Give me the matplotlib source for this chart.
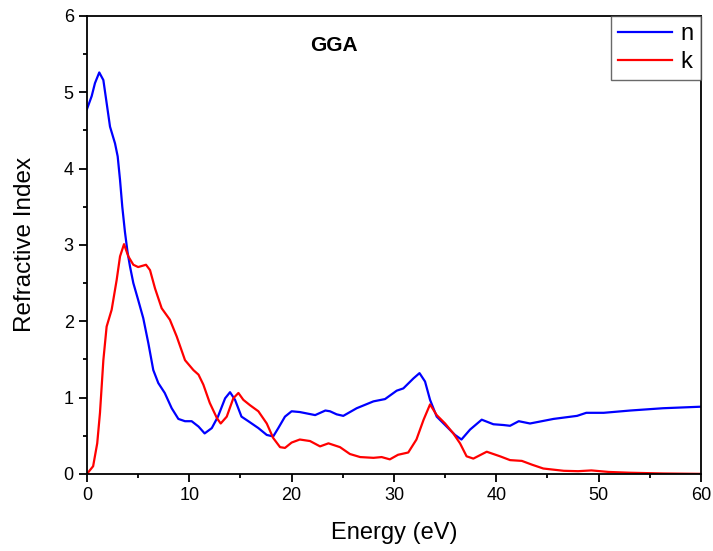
import matplotlib
matplotlib.use("Agg")
import matplotlib.pyplot as plt
import numpy as np

plt.rcParams['font.family'] = ['Liberation Sans', 'DejaVu Sans']

# refractive index n
e_n = [0, 0.46, 0.78, 1.2, 1.6, 1.92, 2.25, 2.74, 3.0, 3.23,
       3.45, 3.71, 3.97, 4.2, 4.53, 5.0, 5.5, 6.0, 6.48, 6.97,
       7.6, 8.28, 8.93, 9.58, 10.23, 10.9, 11.5, 12.2, 12.8, 13.5,
       13.98, 14.47, 15.1, 15.77, 16.75, 17.57, 18.2, 18.7, 19.35, 20.0,
       20.8, 22.3, 23.3, 23.75, 24.4, 25.05, 26.36, 28.0, 29.13, 30.27, 30.92,
       31.9, 32.5, 33.04, 33.53, 34.18, 35.0, 35.97, 36.6, 37.44, 38.58,
       39.72, 40.7, 41.35, 42.2, 43.3, 45.6, 47.9, 48.8, 50.5, 53.1,
       56.3, 60.0]
n = [4.78, 4.95, 5.12, 5.26, 5.16, 4.86, 4.55, 4.33, 4.16, 3.85,
     3.5, 3.17, 2.9, 2.72, 2.5, 2.28, 2.04, 1.71, 1.36, 1.19,
     1.06, 0.86, 0.72, 0.69, 0.69, 0.62, 0.53, 0.6, 0.75, 0.99,
     1.07, 0.97, 0.75, 0.69, 0.6, 0.51, 0.49, 0.6, 0.75, 0.82,
     0.81, 0.77, 0.83, 0.82, 0.78, 0.76, 0.86, 0.95, 0.98, 1.09, 1.12,
     1.25, 1.32, 1.21, 0.97, 0.75, 0.64, 0.51, 0.45, 0.58, 0.71,
     0.65, 0.64, 0.63, 0.69, 0.66, 0.72, 0.76, 0.80, 0.80, 0.83,
     0.86, 0.88]

# extinction coefficient k
e_k = [0, 0.6, 1.0, 1.27, 1.6, 1.92, 2.41, 2.9, 3.23, 3.62,
       4.04, 4.53, 5.0, 5.77, 6.16, 6.65, 7.3, 8.1, 8.77, 9.58,
       10.4, 10.9, 11.37, 12.0, 12.7, 13.07, 13.66, 14.3, 14.8, 15.28,
       15.93, 16.75, 17.57, 18.2, 18.87, 19.35, 20.0, 20.8, 21.8, 22.78,
       23.6, 24.73, 25.7, 26.7, 28.0, 28.8, 29.6, 30.4, 31.4, 32.2,
       32.9, 33.53, 34.18, 35.0, 35.8, 36.46, 37.1, 37.76, 39.07, 40.37,
       41.35, 42.5, 43.5, 44.6, 46.6, 48.0, 49.3, 51.0, 53.0, 56.3,
       60.0]
k = [0, 0.1, 0.4, 0.8, 1.49, 1.93, 2.15, 2.54, 2.85, 3.01,
     2.85, 2.74, 2.71, 2.74, 2.67, 2.43, 2.17, 2.02, 1.8, 1.49,
     1.36, 1.3, 1.17, 0.93, 0.73, 0.66, 0.75, 0.99, 1.06, 0.97,
     0.9, 0.82, 0.66, 0.47, 0.35, 0.34, 0.41, 0.45, 0.43, 0.36,
     0.4, 0.35, 0.26, 0.22, 0.21, 0.22, 0.19, 0.25, 0.28, 0.45,
     0.71, 0.91, 0.77, 0.66, 0.53, 0.4, 0.23, 0.2, 0.29, 0.23,
     0.18, 0.17, 0.12, 0.07, 0.04, 0.035, 0.045, 0.025, 0.015, 0.005,
     0.0]

fig = plt.figure(figsize=(7.13, 5.51), dpi=100)
ax = fig.add_axes([0.122, 0.140, 0.861, 0.831])

ax.plot(e_n, n, color='#0000ff', lw=1.6, label='n', solid_joinstyle='round')
ax.plot(e_k, k, color='#ff0000', lw=1.6, label='k', solid_joinstyle='round')

ax.set_xlim(0, 60)
ax.set_ylim(0, 6)
ax.set_xticks(np.arange(0, 61, 10))
ax.set_xticks(np.arange(5, 60, 10), minor=True)
ax.set_yticks(np.arange(0, 7, 1))
ax.set_yticks(np.arange(0.5, 6, 1), minor=True)
ax.tick_params(which='major', direction='out', length=6, width=1.3, labelsize=13)
ax.tick_params(which='minor', direction='out', length=3, width=1.3)
for s in ax.spines.values():
    s.set_linewidth(1.3)

ax.set_xlabel('Energy (eV)', fontsize=17, labelpad=13)
ax.set_ylabel('Refractive Index', fontsize=17.5, labelpad=20)
ax.text(0.402, 0.935, 'GGA', transform=ax.transAxes, fontsize=15, fontweight='bold',
        ha='center', va='center')

leg = ax.legend(loc='upper right', bbox_to_anchor=(1.0, 1.0), fontsize=17, frameon=True,
                fancybox=False, edgecolor='#444444', borderaxespad=0, handlelength=2.3,
                handletextpad=0.35, borderpad=0.3, labelspacing=0.25)
leg.get_frame().set_linewidth(1.0)

fig.savefig('out.png', dpi=100)
